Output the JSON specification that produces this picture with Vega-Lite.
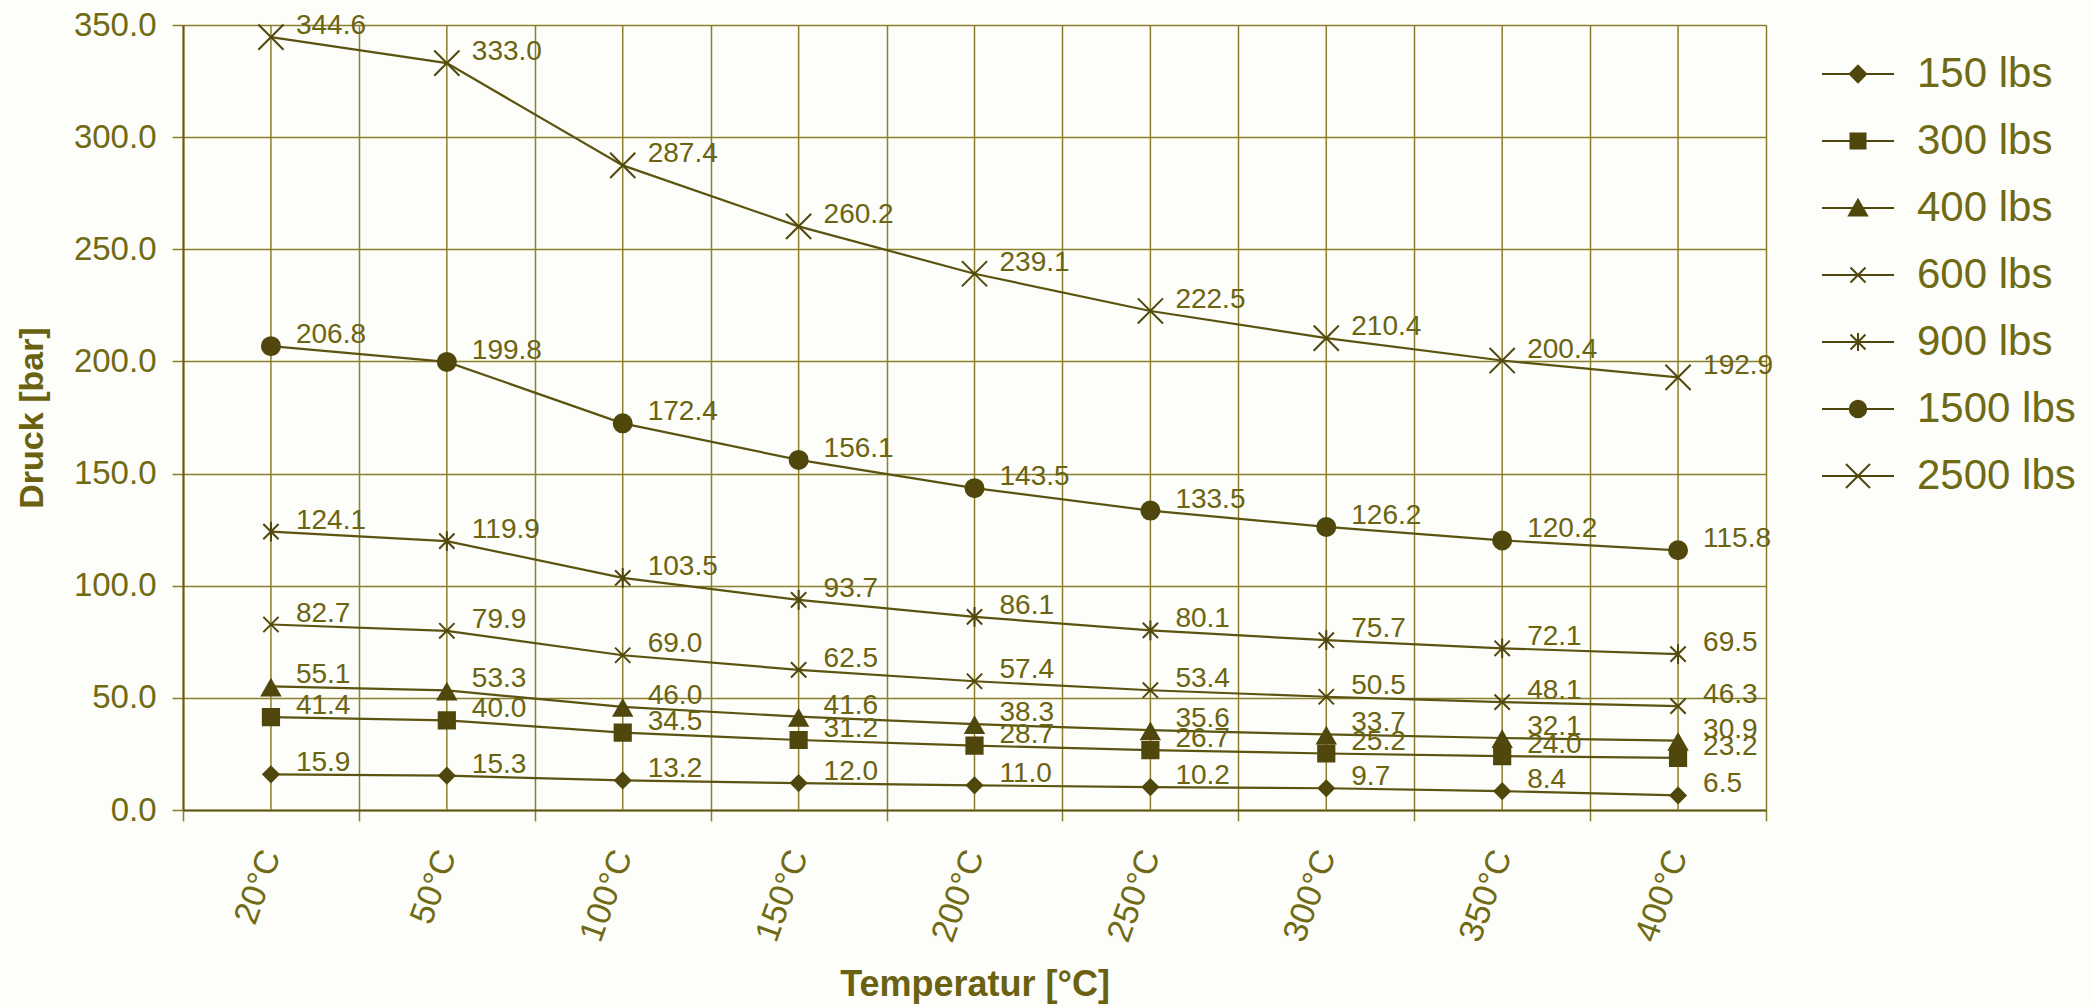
{
  "$schema": "https://vega.github.io/schema/vega-lite/v6.json",
  "width": 1583,
  "height": 785,
  "autosize": {"type": "none"},
  "padding": {"left": 183, "top": 25, "right": 326, "bottom": 196},
  "background": "#fdfdf9",
  "config": {
    "view": {"stroke": null},
    "font": "Liberation Sans",
    "axis": {
      "labelFont": "Liberation Sans",
      "titleFont": "Liberation Sans",
      "labelColor": "#6f6a14",
      "titleColor": "#6a6210",
      "gridColor": "#8a7f2c",
      "gridWidth": 1.5,
      "gridOpacity": 1,
      "tickColor": "#8a7f2c",
      "tickWidth": 1.5,
      "tickSize": 11,
      "domainColor": "#625a14",
      "domainWidth": 2
    },
    "axisX": {
      "labelAngle": -70,
      "labelFontSize": 34,
      "labelPadding": 30,
      "titleFontSize": 36,
      "titleFontWeight": "bold",
      "titleX": 791.5,
      "titleY": 174,
      "titleBaseline": "middle",
      "tickBand": "extent",
      "grid": true
    },
    "axisY": {
      "labelFontSize": 33,
      "labelPadding": 16,
      "titleFontSize": 34,
      "titleFontWeight": "bold",
      "titleX": -151,
      "titleY": 392.5,
      "titleAngle": -90,
      "titleAlign": "center",
      "titleBaseline": "middle",
      "grid": true
    },
    "legend": {
      "labelFont": "Liberation Sans",
      "labelFontSize": 42,
      "labelColor": "#6f6a14",
      "labelLimit": 400
    }
  },
  "data": {
    "values": [
      {"temp": "20°C", "series": "150 lbs", "druck": 15.9},
      {"temp": "50°C", "series": "150 lbs", "druck": 15.3},
      {"temp": "100°C", "series": "150 lbs", "druck": 13.2},
      {"temp": "150°C", "series": "150 lbs", "druck": 12.0},
      {"temp": "200°C", "series": "150 lbs", "druck": 11.0},
      {"temp": "250°C", "series": "150 lbs", "druck": 10.2},
      {"temp": "300°C", "series": "150 lbs", "druck": 9.7},
      {"temp": "350°C", "series": "150 lbs", "druck": 8.4},
      {"temp": "400°C", "series": "150 lbs", "druck": 6.5},
      {"temp": "20°C", "series": "300 lbs", "druck": 41.4},
      {"temp": "50°C", "series": "300 lbs", "druck": 40.0},
      {"temp": "100°C", "series": "300 lbs", "druck": 34.5},
      {"temp": "150°C", "series": "300 lbs", "druck": 31.2},
      {"temp": "200°C", "series": "300 lbs", "druck": 28.7},
      {"temp": "250°C", "series": "300 lbs", "druck": 26.7},
      {"temp": "300°C", "series": "300 lbs", "druck": 25.2},
      {"temp": "350°C", "series": "300 lbs", "druck": 24.0},
      {"temp": "400°C", "series": "300 lbs", "druck": 23.2},
      {"temp": "20°C", "series": "400 lbs", "druck": 55.1},
      {"temp": "50°C", "series": "400 lbs", "druck": 53.3},
      {"temp": "100°C", "series": "400 lbs", "druck": 46.0},
      {"temp": "150°C", "series": "400 lbs", "druck": 41.6},
      {"temp": "200°C", "series": "400 lbs", "druck": 38.3},
      {"temp": "250°C", "series": "400 lbs", "druck": 35.6},
      {"temp": "300°C", "series": "400 lbs", "druck": 33.7},
      {"temp": "350°C", "series": "400 lbs", "druck": 32.1},
      {"temp": "400°C", "series": "400 lbs", "druck": 30.9},
      {"temp": "20°C", "series": "600 lbs", "druck": 82.7},
      {"temp": "50°C", "series": "600 lbs", "druck": 79.9},
      {"temp": "100°C", "series": "600 lbs", "druck": 69.0},
      {"temp": "150°C", "series": "600 lbs", "druck": 62.5},
      {"temp": "200°C", "series": "600 lbs", "druck": 57.4},
      {"temp": "250°C", "series": "600 lbs", "druck": 53.4},
      {"temp": "300°C", "series": "600 lbs", "druck": 50.5},
      {"temp": "350°C", "series": "600 lbs", "druck": 48.1},
      {"temp": "400°C", "series": "600 lbs", "druck": 46.3},
      {"temp": "20°C", "series": "900 lbs", "druck": 124.1},
      {"temp": "50°C", "series": "900 lbs", "druck": 119.9},
      {"temp": "100°C", "series": "900 lbs", "druck": 103.5},
      {"temp": "150°C", "series": "900 lbs", "druck": 93.7},
      {"temp": "200°C", "series": "900 lbs", "druck": 86.1},
      {"temp": "250°C", "series": "900 lbs", "druck": 80.1},
      {"temp": "300°C", "series": "900 lbs", "druck": 75.7},
      {"temp": "350°C", "series": "900 lbs", "druck": 72.1},
      {"temp": "400°C", "series": "900 lbs", "druck": 69.5},
      {"temp": "20°C", "series": "1500 lbs", "druck": 206.8},
      {"temp": "50°C", "series": "1500 lbs", "druck": 199.8},
      {"temp": "100°C", "series": "1500 lbs", "druck": 172.4},
      {"temp": "150°C", "series": "1500 lbs", "druck": 156.1},
      {"temp": "200°C", "series": "1500 lbs", "druck": 143.5},
      {"temp": "250°C", "series": "1500 lbs", "druck": 133.5},
      {"temp": "300°C", "series": "1500 lbs", "druck": 126.2},
      {"temp": "350°C", "series": "1500 lbs", "druck": 120.2},
      {"temp": "400°C", "series": "1500 lbs", "druck": 115.8},
      {"temp": "20°C", "series": "2500 lbs", "druck": 344.6},
      {"temp": "50°C", "series": "2500 lbs", "druck": 333.0},
      {"temp": "100°C", "series": "2500 lbs", "druck": 287.4},
      {"temp": "150°C", "series": "2500 lbs", "druck": 260.2},
      {"temp": "200°C", "series": "2500 lbs", "druck": 239.1},
      {"temp": "250°C", "series": "2500 lbs", "druck": 222.5},
      {"temp": "300°C", "series": "2500 lbs", "druck": 210.4},
      {"temp": "350°C", "series": "2500 lbs", "druck": 200.4},
      {"temp": "400°C", "series": "2500 lbs", "druck": 192.9}
    ]
  },
  "encoding": {
    "x": {
      "field": "temp",
      "type": "nominal",
      "title": "Temperatur [°C]",
      "scale": {
        "domain": ["20°C", "50°C", "100°C", "150°C", "200°C", "250°C", "300°C", "350°C", "400°C"],
        "paddingInner": 0,
        "paddingOuter": 0
      }
    }
  },
  "resolve": {"scale": {"shape": "independent"}},
  "layer": [
    {
      "transform": [{"aggregate": [{"op": "count", "as": "n"}], "groupby": ["temp"]}],
      "mark": {"type": "rule", "color": "#8a7f2c", "strokeWidth": 1.5},
      "encoding": {}
    },
    {
      "mark": {"type": "line", "color": "#5b5310", "strokeWidth": 2.2},
      "encoding": {
        "y": {
          "field": "druck",
          "type": "quantitative",
          "title": "Druck [bar]",
          "scale": {"domain": [0, 350], "nice": false},
          "axis": {"values": [0, 50, 100, 150, 200, 250, 300, 350], "format": ".1f"}
        },
        "detail": {"field": "series", "type": "nominal"}
      }
    },
    {
      "mark": {"type": "point", "filled": true, "fill": "#4f470c", "stroke": "#4f470c", "strokeWidth": 2, "opacity": 1, "size": 324},
      "encoding": {
        "y": {
          "field": "druck",
          "type": "quantitative",
          "title": "Druck [bar]",
          "scale": {"domain": [0, 350], "nice": false},
          "axis": {"values": [0, 50, 100, 150, 200, 250, 300, 350], "format": ".1f"}
        },
        "shape": {
          "field": "series",
          "type": "nominal",
          "legend": null,
          "scale": {
            "domain": ["150 lbs", "300 lbs", "400 lbs", "600 lbs", "900 lbs", "1500 lbs", "2500 lbs"],
            "range": [
              "M0,-0.85L0.85,0L0,0.85L-0.85,0Z",
              "M-0.9,-0.9H0.9V0.9H-0.9Z",
              "M0,-0.75L1,1H-1Z",
              "M-0.85,-0.85L0.85,0.85M-0.85,0.85L0.85,-0.85",
              "M-0.85,-0.85L0.85,0.85M-0.85,0.85L0.85,-0.85M0,-1.1V1.1",
              "M-1,0A1,1,0,1,1,1,0A1,1,0,1,1,-1,0Z",
              "M-1.4,-1.4L1.4,1.4M-1.4,1.4L1.4,-1.4"
            ]
          }
        }
      }
    },
    {
      "mark": {"type": "point", "filled": true, "fill": "#4f470c", "stroke": "#4f470c", "strokeWidth": 2, "opacity": 1, "size": 0},
      "encoding": {
        "y": {
          "field": "druck",
          "type": "quantitative",
          "title": "Druck [bar]",
          "scale": {"domain": [0, 350], "nice": false},
          "axis": {"values": [0, 50, 100, 150, 200, 250, 300, 350], "format": ".1f"}
        },
        "shape": {
          "field": "series",
          "type": "nominal",
          "scale": {
            "domain": ["150 lbs", "300 lbs", "400 lbs", "600 lbs", "900 lbs", "1500 lbs", "2500 lbs"],
            "range": [
              "M-2.4,0H2.4M0,-0.55L0.55,0L0,0.55L-0.55,0Z",
              "M-2.4,0H2.4M-0.5,-0.5H0.5V0.5H-0.5Z",
              "M-2.4,0H2.4M0,-0.55L0.6,0.5H-0.6Z",
              "M-2.4,0H2.4M-0.5,-0.5L0.5,0.5M-0.5,0.5L0.5,-0.5",
              "M-2.4,0H2.4M-0.5,-0.5L0.5,0.5M-0.5,0.5L0.5,-0.5M0,-0.6V0.6",
              "M-2.4,0H2.4M-0.55,0A0.55,0.55,0,1,1,0.55,0A0.55,0.55,0,1,1,-0.55,0Z",
              "M-2.4,0H2.4M-0.8,-0.8L0.8,0.8M-0.8,0.8L0.8,-0.8"
            ]
          },
          "legend": {
            "title": null,
            "orient": "right",
            "offset": 43,
            "padding": 28,
            "symbolSize": 900,
            "symbolStrokeWidth": 2,
            "labelOffset": 38,
            "rowPadding": 25
          }
        }
      }
    },
    {
      "mark": {"type": "text", "align": "left", "baseline": "middle", "dx": 25, "dy": -11, "fontSize": 28, "color": "#6b6412", "font": "Liberation Sans"},
      "encoding": {
        "y": {
          "field": "druck",
          "type": "quantitative",
          "title": "Druck [bar]",
          "scale": {"domain": [0, 350], "nice": false},
          "axis": {"values": [0, 50, 100, 150, 200, 250, 300, 350], "format": ".1f"}
        },
        "text": {"field": "druck", "type": "quantitative", "format": ".1f"}
      }
    }
  ]
}
